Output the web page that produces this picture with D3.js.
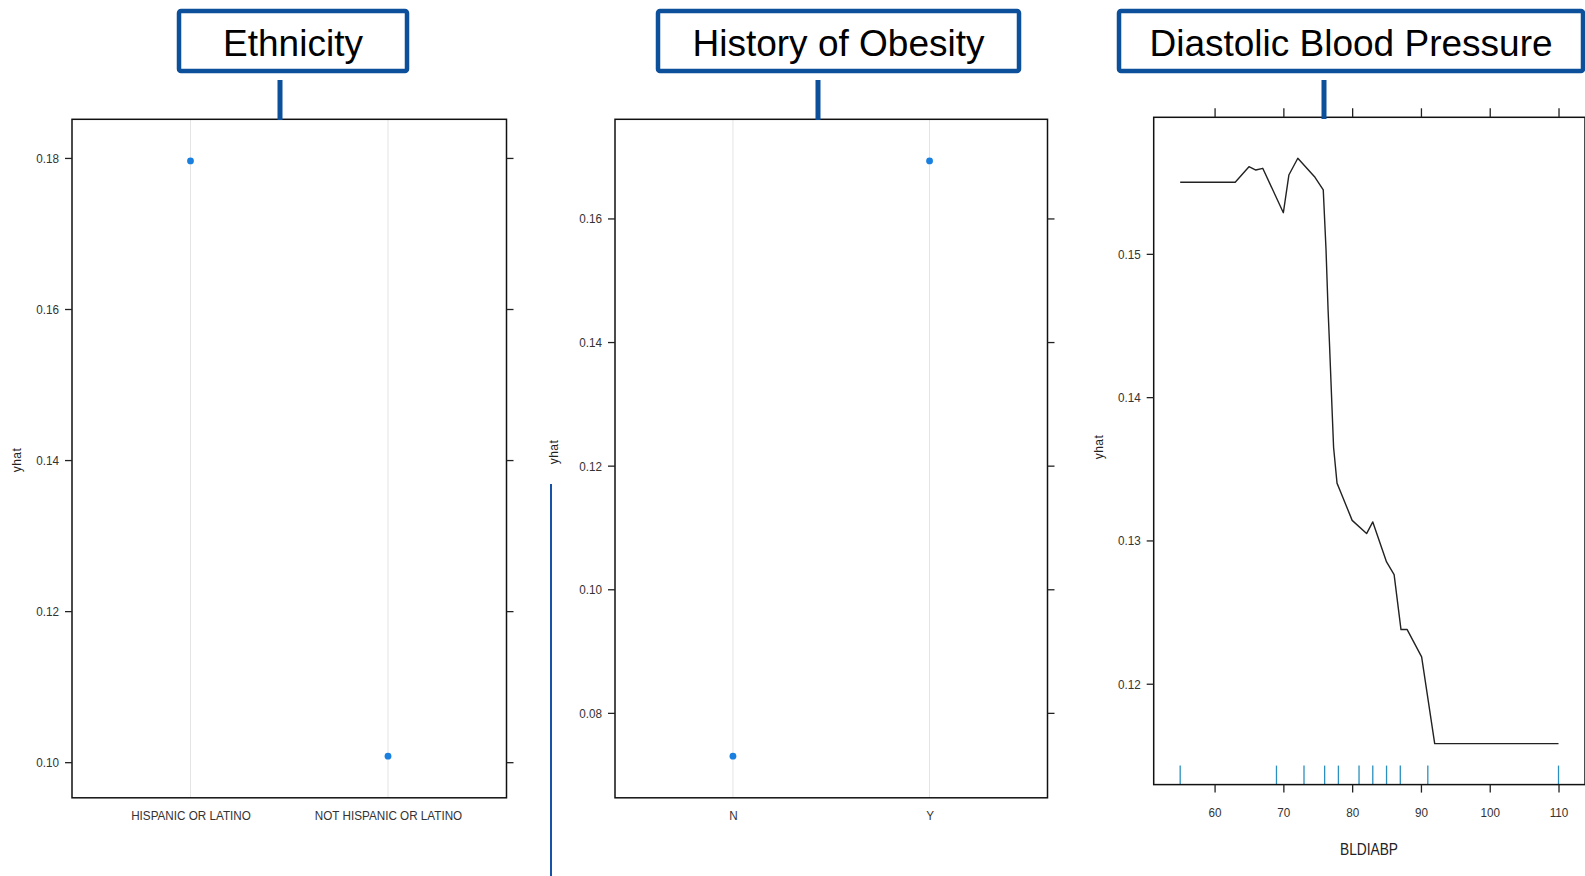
<!DOCTYPE html>
<html>
<head>
<meta charset="utf-8">
<script src="https://cdn.jsdelivr.net/npm/d3@7"></script>
<style>
  html, body { margin: 0; padding: 0; background: #fff; overflow: hidden; }
  svg { display: block; }
  .tick text { font-family: "Liberation Sans", Arial, sans-serif; fill: #333; }
  .tick line { stroke: #222; stroke-width: 1.3; }
</style>
</head>
<body>
<svg id="chart" width="1585" height="876"></svg>
<script>
// Partial dependence of yhat on three predictors.

// Ethnicity
const ethnicityCats = ["HISPANIC OR LATINO", "NOT HISPANIC OR LATINO"];
const ethnicityYhat = [0.1796, 0.1008];
const ethnicityTicks = [0.10, 0.12, 0.14, 0.16, 0.18];

// History of obesity
const obesityCats = ["N", "Y"];
const obesityYhat = [0.0730, 0.1693];
const obesityTicks = [0.08, 0.10, 0.12, 0.14, 0.16];

// Diastolic blood pressure (BLDIABP)
const diaBP = [55, 63, 65, 66, 67, 70, 70.8, 72.1, 74.6, 75.8, 76.2, 76.5, 76.7, 77.1, 77.3, 77.8,
               78.4, 80.0, 82.1, 83.0, 85.0, 86.1, 87.1, 88.0, 90.1, 92.0, 110];
const diaYhat = [0.1550, 0.1550, 0.15608, 0.15585, 0.15597, 0.15287, 0.1555, 0.15667, 0.15534, 0.15446,
                 0.1503, 0.1461, 0.1438, 0.1389, 0.1365, 0.1340,
                 0.1333, 0.1314, 0.13048, 0.13129, 0.1285, 0.12762, 0.12378, 0.12378, 0.12187, 0.11582, 0.11582];
const diaRug = [55, 69, 73, 76, 78, 81, 83, 85, 87, 91, 110];
const diaXTicks = [60, 70, 80, 90, 100, 110];
const diaYTicks = [0.12, 0.13, 0.14, 0.15];

const titles = ["Ethnicity", "History of Obesity", "Diastolic Blood Pressure"];

const svg = d3.select("#chart");
const BLUE = "#0c4f9b";
const DOT = "#1a80e0";
const RUG = "#2b8fbf";
const SQUEEZE = 0.86;   // narrow look for axis labels
const TICK_FONT = "13.6px";

// lattice-style padded extent (7% on each side)
function padded(values) {
  const [lo, hi] = d3.extent(values);
  const p = (hi - lo) * 0.07;
  return [lo - p, hi + p];
}

// horizontally condense axis tick labels while keeping their anchor point
function condense(axisG) {
  axisG.selectAll("text").each(function () {
    const t = d3.select(this);
    const x = +t.attr("x") || 0;
    t.attr("x", x / SQUEEZE).attr("transform", `scale(${SQUEEZE},1)`);
  });
}

function frame(g, b) {
  g.append("rect")
    .attr("x", b.x0).attr("y", b.y0)
    .attr("width", b.x1 - b.x0).attr("height", b.y1 - b.y0)
    .attr("fill", "none").attr("stroke", "#111").attr("stroke-width", 1.5);
}

function yAxes(g, y, b, ticks, labelX, labelY) {
  const left = g.append("g").attr("transform", `translate(${b.x0},0)`)
    .call(d3.axisLeft(y).tickValues(ticks).tickSize(7).tickPadding(6).tickFormat(d3.format(".2f")));
  const right = g.append("g").attr("transform", `translate(${b.x1},0)`)
    .call(d3.axisRight(y).tickValues(ticks).tickSize(7).tickFormat(""));
  [left, right].forEach(a => a.select(".domain").remove());
  left.selectAll("text").style("font-size", TICK_FONT);
  condense(left);
  g.append("text")
    .attr("transform", `translate(${labelX},${labelY}) rotate(-90)`)
    .attr("text-anchor", "middle")
    .style("font-family", "'Liberation Sans', Arial, sans-serif")
    .style("font-size", "12px").style("letter-spacing", "0.5px")
    .attr("fill", "#222")
    .text("yhat");
}

// Dot panel for a categorical predictor
function dotPanel(b, cats, vals, ticks, labelX, labelY) {
  const g = svg.append("g");
  const x = d3.scaleLinear().domain([0.4, cats.length + 0.6]).range([b.x0, b.x1]);
  const y = d3.scaleLinear().domain(padded(vals)).range([b.y1, b.y0]);

  g.selectAll("line.grid").data(cats).join("line")
    .attr("class", "grid")
    .attr("x1", (d, i) => x(i + 1)).attr("x2", (d, i) => x(i + 1))
    .attr("y1", b.y0).attr("y2", b.y1)
    .attr("stroke", "#e4e4e4").attr("stroke-width", 1);

  g.selectAll("circle").data(vals).join("circle")
    .attr("cx", (d, i) => x(i + 1)).attr("cy", d => y(d))
    .attr("r", 3.4).attr("fill", DOT);

  frame(g, b);
  yAxes(g, y, b, ticks, labelX, labelY);

  const xa = g.append("g").attr("transform", `translate(0,${b.y1})`)
    .call(d3.axisBottom(x).tickValues(cats.map((c, i) => i + 1))
      .tickSize(0).tickPadding(13).tickFormat((d, i) => cats[i]));
  xa.select(".domain").remove();
  xa.selectAll("text").style("font-size", TICK_FONT);
  condense(xa);
}

// Panel frames
const b1 = { x0: 72, x1: 506.5, y0: 119.3, y1: 797.8 };
const b2 = { x0: 615, x1: 1047.5, y0: 119.3, y1: 797.8 };
const b3 = { x0: 1153.7, x1: 1585, y0: 117.3, y1: 784.6 };

dotPanel(b1, ethnicityCats, ethnicityYhat, ethnicityTicks, 21, 460);
dotPanel(b2, obesityCats, obesityYhat, obesityTicks, 558, 452);

// Panel 3: line with rug
{
  const g = svg.append("g");
  const x = d3.scaleLinear().domain(padded(diaBP)).range([b3.x0, b3.x1]);
  const y = d3.scaleLinear().domain(padded(diaYhat)).range([b3.y1, b3.y0]);

  g.append("path")
    .datum(diaBP.map((v, i) => [v, diaYhat[i]]))
    .attr("fill", "none").attr("stroke", "#222").attr("stroke-width", 1.4)
    .attr("stroke-linejoin", "round")
    .attr("d", d3.line().x(d => x(d[0])).y(d => y(d[1])));

  g.selectAll("line.rug").data(diaRug).join("line")
    .attr("class", "rug")
    .attr("x1", d => x(d)).attr("x2", d => x(d))
    .attr("y1", b3.y1).attr("y2", b3.y1 - 19)
    .attr("stroke", RUG).attr("stroke-width", 1.3);

  frame(g, b3);
  yAxes(g, y, b3, diaYTicks, 1103, 447);

  const bottom = g.append("g").attr("transform", `translate(0,${b3.y1})`)
    .call(d3.axisBottom(x).tickValues(diaXTicks).tickSize(8).tickPadding(15));
  const top = g.append("g").attr("transform", `translate(0,${b3.y0})`)
    .call(d3.axisTop(x).tickValues(diaXTicks).tickSize(9).tickFormat(""));
  [bottom, top].forEach(a => a.select(".domain").remove());
  bottom.selectAll("text").style("font-size", TICK_FONT);
  condense(bottom);

  g.append("text")
    .attr("transform", `translate(1369,855) scale(${SQUEEZE},1)`)
    .attr("text-anchor", "middle")
    .style("font-family", "'Liberation Sans', Arial, sans-serif")
    .style("font-size", "16px").attr("fill", "#222")
    .text("BLDIABP");
}

// Title boxes with connectors
const boxes = [
  { x0: 179, x1: 407, cx: 280 },
  { x0: 658, x1: 1019, cx: 818 },
  { x0: 1119, x1: 1583, cx: 1324 }
];
const tg = svg.append("g");
boxes.forEach((bx, i) => {
  tg.append("rect")
    .attr("x", bx.x0).attr("y", 11)
    .attr("width", bx.x1 - bx.x0).attr("height", 60)
    .attr("rx", 2)
    .attr("fill", "#fff").attr("stroke", BLUE).attr("stroke-width", 4.5);
  tg.append("text")
    .attr("x", (bx.x0 + bx.x1) / 2).attr("y", 56)
    .attr("text-anchor", "middle")
    .style("font-family", "'Liberation Sans', Arial, sans-serif")
    .style("font-size", "37px").attr("fill", "#000")
    .text(titles[i]);
  tg.append("line")
    .attr("x1", bx.cx).attr("x2", bx.cx)
    .attr("y1", 80).attr("y2", i === 2 ? 119 : 120)
    .attr("stroke", BLUE).attr("stroke-width", 5);
});

// thin connector between the first two panels
tg.append("line")
  .attr("x1", 551).attr("x2", 551).attr("y1", 484).attr("y2", 876)
  .attr("stroke", "#1652a6").attr("stroke-width", 2);
</script>
</body>
</html>
